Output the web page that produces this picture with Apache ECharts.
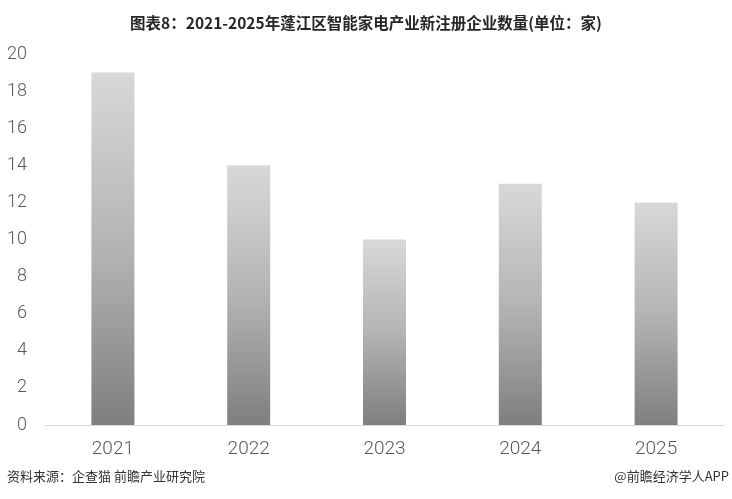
<!DOCTYPE html>
<html><head><meta charset="utf-8">
<script src="https://cdn.jsdelivr.net/npm/echarts@6/dist/echarts.min.js"></script>
<style>html,body{margin:0;padding:0;background:#fff}#c{width:732px;height:499px}</style>
</head><body><div id="c"></div>
<script>
var categories = ['2021','2022','2023','2024','2025'];
var values = [19, 14, 10, 13, 12];
var yTicks = [0, 2, 4, 6, 8, 10, 12, 14, 16, 18, 20];
var titleText = '图表8：2021-2025年蓬江区智能家电产业新注册企业数量(单位：家)';
var sourceText = '资料来源：企查猫 前瞻产业研究院';
var brandText = '@前瞻经济学人APP';

var chart = echarts.init(document.getElementById('c'));
chart.setOption({
  backgroundColor: '#fff',
  animation: false,
  title: {
    text: titleText, left: 'center', top: 10,
    textStyle: {fontSize: 15.5, fontWeight: 'bold', color: '#262626', fontFamily: 'Noto Sans CJK SC'}
  },
  graphic: [
    {type: 'text', left: 7, top: 470, style: {text: sourceText, fontSize: 13, fill: '#333', fontFamily: 'Noto Sans CJK SC'}},
    {type: 'text', right: 3, top: 470, style: {text: brandText, fontSize: 13, fill: '#333', fontFamily: 'Noto Sans CJK SC'}}
  ],
  grid: {left: 45, right: 8, top: 54, bottom: 74, containLabel: false},
  xAxis: {
    type: 'category', data: categories,
    axisLine: {lineStyle: {color: '#d9d9d9', width: 1}},
    axisTick: {show: false},
    axisLabel: {fontSize: 19, color: '#595959', margin: 15, fontFamily: 'Roboto', fontWeight: 300}
  },
  yAxis: {
    type: 'value', min: yTicks[0], max: yTicks[yTicks.length-1], interval: 2,
    axisLine: {show: false}, axisTick: {show: false}, splitLine: {show: false},
    axisLabel: {fontSize: 18, color: '#595959', margin: 18, fontFamily: 'Roboto', fontWeight: 300}
  },
  series: [{
    type: 'bar', data: values, barWidth: 43,
    itemStyle: {
      color: new echarts.graphic.LinearGradient(0, 0, 0, 1, [
        {offset: 0, color: '#d8d8d8'},
        {offset: 0.5, color: '#b4b4b4'},
        {offset: 1, color: '#7f7f7f'}
      ])
    }
  }]
});
</script></body></html>
